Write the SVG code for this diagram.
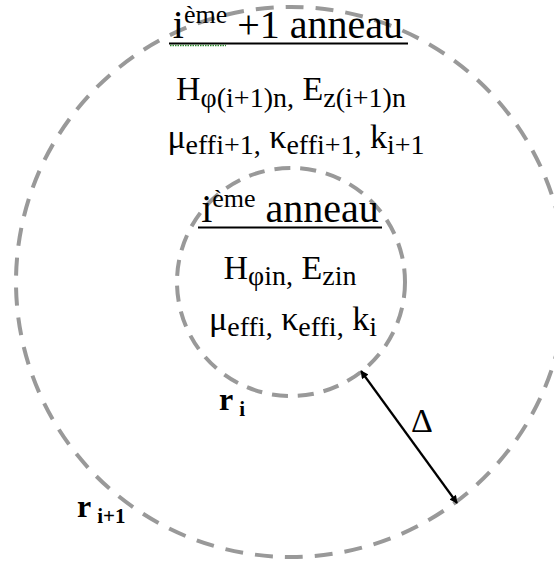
<svg xmlns="http://www.w3.org/2000/svg" width="554" height="563" viewBox="0 0 554 563">
<style>
.ring{fill:none;stroke:#999999;stroke-width:4}
text{font-family:"Liberation Serif",serif;fill:#000}
.ul{stroke:#000;stroke-width:2}
</style>
<defs>
<marker id="ah" viewBox="0 0 10 10" refX="9" refY="5" markerWidth="10" markerHeight="8" markerUnits="userSpaceOnUse" orient="auto-start-reverse">
<path d="M0,0 L10,5 L0,10 z" fill="#000"/>
</marker>
</defs>
<rect width="554" height="563" fill="#fff"/>
<g id="outer-ring">
<circle class="ring" cx="291" cy="282" r="275" stroke-dasharray="18 12"/>
<text font-family="Liberation Serif, serif" x="288" y="38" text-anchor="middle" font-size="40">i<tspan font-size="26" dy="-15">ème</tspan><tspan dy="15"> +1 anneau</tspan></text>
<line class="ul" x1="169" y1="43.5" x2="408" y2="43.5"/>
<line x1="170" y1="45.5" x2="226" y2="45.5" stroke="#2e8b2e" stroke-width="1.5" stroke-dasharray="1.5 1"/>
<text font-family="Liberation Serif, serif" x="291" y="100" text-anchor="middle" font-size="34">H<tspan font-size="28" dy="7">φ(i+1)n,</tspan><tspan dy="-7"> E</tspan><tspan font-size="28" dy="7">z(i+1)n</tspan></text>
<text font-family="Liberation Serif, serif" x="296" y="148" text-anchor="middle" font-size="34">μ<tspan font-size="28" dy="6">effi+1,</tspan><tspan dy="-6"> κ</tspan><tspan font-size="28" dy="6">effi+1,</tspan><tspan dy="-6"> k</tspan><tspan font-size="28" dy="6">i+1</tspan></text>
</g>
<g id="inner-ring">
<circle class="ring" cx="291" cy="282" r="114" stroke-dasharray="16 10"/>
<text font-family="Liberation Serif, serif" x="290" y="222" text-anchor="middle" font-size="40">i<tspan font-size="26" dy="-15">ème</tspan><tspan dy="15"> anneau</tspan></text>
<line class="ul" x1="198" y1="227.5" x2="382" y2="227.5"/>
<text font-family="Liberation Serif, serif" x="290" y="279" text-anchor="middle" font-size="34">H<tspan font-size="28" dy="6">φin,</tspan><tspan dy="-6"> E</tspan><tspan font-size="28" dy="6">zin</tspan></text>
<text font-family="Liberation Serif, serif" x="293" y="330" text-anchor="middle" font-size="34">μ<tspan font-size="28" dy="6">effi,</tspan><tspan dy="-6"> κ</tspan><tspan font-size="28" dy="6">effi,</tspan><tspan dy="-6"> k</tspan><tspan font-size="28" dy="6">i</tspan></text>
</g>
<g id="label-ri">
<text font-family="Liberation Serif, serif" font-weight="bold" x="219" y="410" font-size="32">r<tspan font-size="21" dx="6" dy="6">i</tspan></text>
</g>
<g id="label-ri1">
<text font-family="Liberation Serif, serif" font-weight="bold" x="77" y="517" font-size="32">r<tspan font-size="21" dx="6" dy="6">i+1</tspan></text>
</g>
<g id="connectors">
<line x1="361" y1="371" x2="457" y2="503" stroke="#000" stroke-width="2.2" marker-start="url(#ah)" marker-end="url(#ah)"/>
<text font-family="Liberation Serif, serif" x="411" y="432" font-size="34">Δ</text>
</g>
</svg>
